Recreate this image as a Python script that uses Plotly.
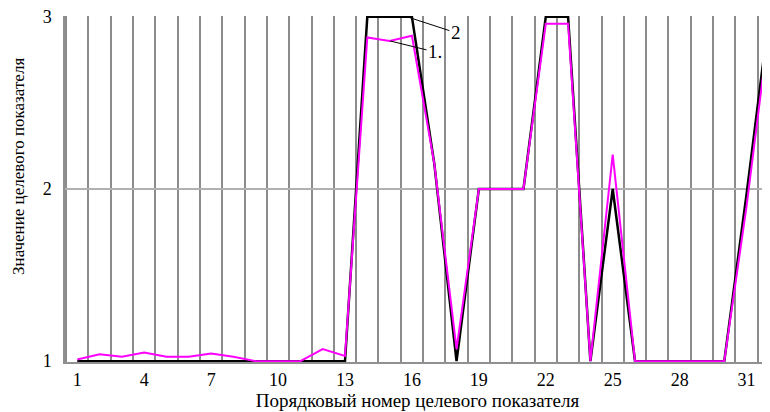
import plotly.graph_objects as go

x_num = list(range(1, 33))
series_1 = [1.01, 1.04, 1.025, 1.05, 1.025, 1.025, 1.045, 1.025, 1.0, 1.0, 1.0, 1.07, 1.03,
            2.88, 2.86, 2.89, 2.15, 1.07, 2.0, 2.0, 2.0, 2.96, 2.96, 1.0, 2.2,
            1.0, 1.0, 1.0, 1.0, 1.0, 1.9, 2.93]
series_2 = [1, 1, 1, 1, 1, 1, 1, 1, 1, 1, 1, 1, 1,
            3, 3, 3, 2.15, 1, 2, 2, 2, 3, 3, 1, 2,
            1, 1, 1, 1, 1, 1.97, 3]
x_ticks = [1, 4, 7, 10, 13, 16, 19, 22, 25, 28, 31]
y_ticks = [1, 2, 3]

FONT = "'Liberation Serif', 'Times New Roman', Times, serif"

fig = go.Figure()
fig.add_trace(go.Scatter(x=x_num, y=series_2, mode="lines", name="2",
                         line=dict(color="#000000", width=2.5)))
fig.add_trace(go.Scatter(x=x_num, y=series_1, mode="lines", name="1",
                         line=dict(color="#ff00ff", width=2)))

fig.add_shape(type="line", xref="paper", x0=0, x1=1, yref="y", y0=2, y1=2,
              line=dict(color="#000000", width=1), layer="below")

# page body has an 8px default margin; figure size/margins compensate for it
fig.update_layout(
    width=762, height=404,
    margin=dict(l=57, r=0, t=8, b=50),
    paper_bgcolor="white", plot_bgcolor="white",
    showlegend=False,
    font=dict(family=FONT, size=17, color="#000000"),
    xaxis=dict(
        range=[0.45, 32.05], tickvals=x_ticks, showgrid=False,
        showline=True, linecolor="#909090", linewidth=1.5,
        ticks="", ticklabelstandoff=1, zeroline=False,
        ticklabeloverflow="allow",
        tickfont=dict(family=FONT, size=18),
        minor=dict(tick0=0.5, dtick=1, showgrid=True, gridcolor="#8c8c8c", gridwidth=1.5),
        title=dict(text="Порядковый номер целевого показателя", font=dict(family=FONT, size=19), standoff=2),
    ),
    yaxis=dict(
        range=[0.995, 3.005], tickvals=y_ticks, showgrid=True,
        gridcolor="#b0b0b0", gridwidth=1.5,
        showline=True, linecolor="#909090", linewidth=1.5,
        ticks="", ticklabelstandoff=8, zeroline=False,
        ticklabeloverflow="allow",
        tickfont=dict(family=FONT, size=18),
    ),
    annotations=[
        dict(text="Значение целевого показателя", textangle=-90, xref="paper", yref="paper",
             x=-0.066, y=0.565, xanchor="center", yanchor="middle",
             showarrow=False, font=dict(family=FONT, size=17)),
        dict(text="2", x=15.91, y=2.995, xref="x", yref="y", ax=46, ay=15,
             showarrow=True, arrowhead=0, arrowwidth=1, arrowcolor="#000000",
             font=dict(family=FONT, size=19)),
        dict(text="1.", x=15.02, y=2.86, xref="x", yref="y", ax=45, ay=11,
             showarrow=True, arrowhead=0, arrowwidth=1, arrowcolor="#000000",
             font=dict(family=FONT, size=19)),
    ],
)

fig.write_html("out.html")
